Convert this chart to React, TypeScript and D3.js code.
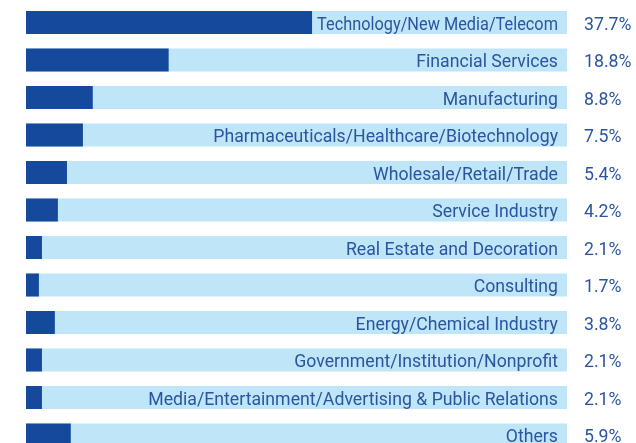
import React, { useRef, useEffect } from 'react';
import * as d3 from 'd3';

const industries = [
    'Technology/New Media/Telecom',
    'Financial Services',
    'Manufacturing',
    'Pharmaceuticals/Healthcare/Biotechnology',
    'Wholesale/Retail/Trade',
    'Service Industry',
    'Real Estate and Decoration',
    'Consulting',
    'Energy/Chemical Industry',
    'Government/Institution/Nonprofit',
    'Media/Entertainment/Advertising & Public Relations',
    'Others',
];
const shares = [37.7, 18.8, 8.8, 7.5, 5.4, 4.2, 2.1, 1.7, 3.8, 2.1, 2.1, 5.9];
const scaleMax = 71.3;

const App = () => {
    const svgRef = useRef<SVGSVGElement>(null);
    useEffect(() => {
        const width = 636, height = 443;
        const svg = d3.select(svgRef.current)
            .attr('width', width)
            .attr('height', height);
        svg.selectAll('*').remove();

        // escala horizontal: 0 .. scaleMax ocupa o fundo inteiro
        const x = d3.scaleLinear().domain([0, scaleMax]).range([26, 567]);
        const step = 37.5, band = 23;
        const y = d3.scaleBand<string>()
            .domain(industries)
            .range([11, 11 + step * (industries.length - 1) + band])
            .paddingInner((step - band) / step)
            .paddingOuter(0)
            .align(0);

        const rows = svg.selectAll('g.row')
            .data(industries)
            .join('g')
            .attr('class', 'row')
            .attr('transform', d => `translate(0, ${y(d)})`);

        // fundo claro
        rows.append('rect')
            .attr('x', x(0))
            .attr('width', x(scaleMax) - x(0))
            .attr('height', y.bandwidth())
            .attr('fill', '#bee5f8');

        // barra escura
        rows.append('rect')
            .attr('x', x(0))
            .attr('width', (d, i) => x(shares[i]) - x(0))
            .attr('height', y.bandwidth())
            .attr('fill', '#14499c');

        const labels = rows.append('text')
            .attr('x', 558)
            .attr('y', 18.7)
            .attr('text-anchor', 'end')
            .attr('font-family', 'Roboto')
            .attr('font-size', 17.7)
            .attr('fill', '#2b559f')
            .text(d => d);

        // se o rótulo não cabe depois da barra, comprime
        labels.each(function (d, i) {
            const el = this as SVGTextElement;
            const room = 558 - x(shares[i]) - 5;
            if (el.getComputedTextLength() > room) {
                d3.select(el)
                    .attr('textLength', room)
                    .attr('lengthAdjust', 'spacingAndGlyphs');
            }
        });

        rows.append('text')
            .attr('x', 584)
            .attr('y', 18.7)
            .attr('font-family', 'Roboto')
            .attr('font-size', 17.7)
            .attr('fill', '#2b559f')
            .text((d, i) => `${shares[i].toFixed(1)}%`);
    }, []);

    return <svg ref={svgRef} style={{ position: 'fixed', top: 0, left: 0 }} />;
};

export default App;
